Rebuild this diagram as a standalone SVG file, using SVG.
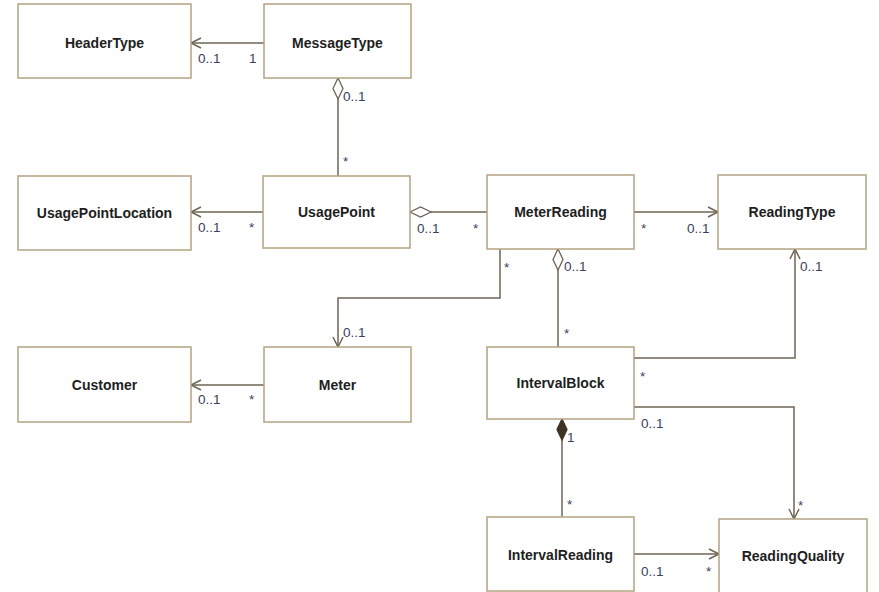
<svg xmlns="http://www.w3.org/2000/svg" width="879" height="592" viewBox="0 0 879 592">
<defs>
<style>
.box{fill:#ffffff;stroke:#b3a382;stroke-width:1.5}
.t{font-family:"Liberation Sans",Arial,sans-serif;font-weight:bold;font-size:14px;fill:#1e1e1e;text-anchor:middle}
.c{fill:none;stroke:#6e6555;stroke-width:1.5}
.l{font-family:"Liberation Sans",Arial,sans-serif;font-size:13.5px;fill:#3a3e60}
</style>
<marker id="arrow" markerUnits="userSpaceOnUse" viewBox="-12 -7 14 14" markerWidth="14" markerHeight="14" refX="0" refY="0" orient="auto">
<path d="M-10,-5 L0,0 L-10,5" fill="none" stroke="#6e6555" stroke-width="1.5"/>
</marker>
<marker id="odiamond" markerUnits="userSpaceOnUse" viewBox="-1 -6 24 12" markerWidth="24" markerHeight="12" refX="0" refY="0" orient="auto">
<path d="M0,0 L10.5,-5 L21,0 L10.5,5 Z" fill="#ffffff" stroke="#6e6555" stroke-width="1.3"/>
</marker>
<marker id="fdiamond" markerUnits="userSpaceOnUse" viewBox="-1 -6 24 12" markerWidth="24" markerHeight="12" refX="0" refY="0" orient="auto">
<path d="M0,0 L10.5,-5 L21,0 L10.5,5 Z" fill="#3d3325" stroke="#3d3325" stroke-width="1.3"/>
</marker>
</defs>
<g id="connectors">
<path class="c" d="M264,43 L191,43" marker-end="url(#arrow)"/>
<path class="c" d="M338,78 L338,176" marker-start="url(#odiamond)"/>
<path class="c" d="M263,212 L191,212" marker-end="url(#arrow)"/>
<path class="c" d="M410,212 L487,212" marker-start="url(#odiamond)"/>
<path class="c" d="M634,212 L718,212" marker-end="url(#arrow)"/>
<path class="c" d="M500,249 L500,298 L338,298 L338,347" marker-end="url(#arrow)"/>
<path class="c" d="M558,249 L558,347" marker-start="url(#odiamond)"/>
<path class="c" d="M634,358 L795,358 L795,249" marker-end="url(#arrow)"/>
<path class="c" d="M634,407 L794,407 L794,519" marker-end="url(#arrow)"/>
<path class="c" d="M562,419 L562,517" marker-start="url(#fdiamond)"/>
<path class="c" d="M634,554 L719,554" marker-end="url(#arrow)"/>
<path class="c" d="M264,385 L191,385" marker-end="url(#arrow)"/>
<g id="labels">
<text class="l" x="198" y="63">0..1</text>
<text class="l" x="249" y="63">1</text>
<text class="l" x="343" y="101">0..1</text>
<text class="l" x="343" y="166">*</text>
<text class="l" x="198" y="232">0..1</text>
<text class="l" x="249" y="232">*</text>
<text class="l" x="417" y="233">0..1</text>
<text class="l" x="473" y="233">*</text>
<text class="l" x="641" y="233">*</text>
<text class="l" x="687" y="233">0..1</text>
<text class="l" x="504" y="272">*</text>
<text class="l" x="343" y="337">0..1</text>
<text class="l" x="564" y="271">0..1</text>
<text class="l" x="564" y="338">*</text>
<text class="l" x="800" y="271">0..1</text>
<text class="l" x="640" y="381">*</text>
<text class="l" x="641" y="428">0..1</text>
<text class="l" x="798" y="510">*</text>
<text class="l" x="567" y="442">1</text>
<text class="l" x="567" y="509">*</text>
<text class="l" x="641" y="576">0..1</text>
<text class="l" x="706" y="576">*</text>
<text class="l" x="198" y="404">0..1</text>
<text class="l" x="249" y="404">*</text>
</g>
</g>
<g id="HeaderType"><rect class="box" x="18" y="4" width="173" height="74"/><text class="t" x="104.5" y="48">HeaderType</text></g>
<g id="MessageType"><rect class="box" x="264" y="4" width="147" height="74"/><text class="t" x="337.5" y="48">MessageType</text></g>
<g id="UsagePointLocation"><rect class="box" x="18" y="176" width="173" height="74"/><text class="t" x="104.5" y="218">UsagePointLocation</text></g>
<g id="UsagePoint"><rect class="box" x="263" y="176" width="147" height="72"/><text class="t" x="336.5" y="217">UsagePoint</text></g>
<g id="MeterReading"><rect class="box" x="487" y="175" width="147" height="74"/><text class="t" x="560.5" y="217">MeterReading</text></g>
<g id="ReadingType"><rect class="box" x="718" y="175" width="148" height="74"/><text class="t" x="792" y="217">ReadingType</text></g>
<g id="Customer"><rect class="box" x="18" y="347" width="173" height="75"/><text class="t" x="104.5" y="390">Customer</text></g>
<g id="Meter"><rect class="box" x="264" y="347" width="147" height="75"/><text class="t" x="337.5" y="390">Meter</text></g>
<g id="IntervalBlock"><rect class="box" x="487" y="347" width="147" height="72"/><text class="t" x="560.5" y="388">IntervalBlock</text></g>
<g id="IntervalReading"><rect class="box" x="487" y="517" width="147" height="74"/><text class="t" x="560.5" y="560">IntervalReading</text></g>
<g id="ReadingQuality"><rect class="box" x="719" y="519" width="148" height="74"/><text class="t" x="793" y="561">ReadingQuality</text></g>
</svg>
